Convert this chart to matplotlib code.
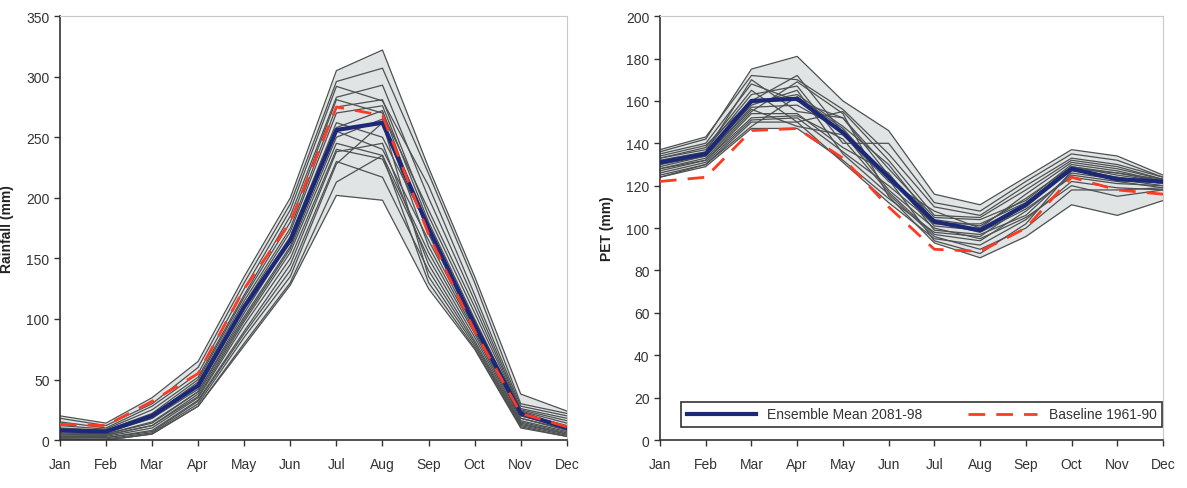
import numpy as np
import matplotlib
matplotlib.use("Agg")
import matplotlib.pyplot as plt

plt.rcParams['font.family'] = ['Liberation Sans', 'DejaVu Sans']

months = ["Jan", "Feb", "Mar", "Apr", "May", "Jun", "Jul", "Aug", "Sep", "Oct", "Nov", "Dec"]

# ensemble members, rainfall (mm)
rain_members = [
    [20, 14, 35, 65, 135, 200, 305, 322, 225, 135, 38, 24],
    [18, 12, 30, 60, 130, 195, 296, 307, 220, 130, 30, 22],
    [15, 10, 28, 55, 125, 190, 292, 280, 210, 120, 28, 20],
    [12, 9, 25, 52, 120, 185, 283, 293, 200, 115, 26, 18],
    [10, 8, 22, 50, 118, 180, 281, 270, 190, 110, 25, 16],
    [9, 8, 20, 48, 115, 175, 275, 281, 185, 105, 24, 14],
    [8, 7, 18, 45, 112, 172, 270, 276, 180, 100, 22, 12],
    [7, 6, 18, 42, 110, 168, 262, 250, 175, 98, 20, 11],
    [6, 5, 15, 40, 105, 165, 258, 272, 170, 95, 20, 10],
    [5, 5, 14, 40, 102, 160, 255, 240, 165, 92, 18, 9],
    [5, 4, 12, 38, 100, 158, 250, 265, 160, 90, 18, 8],
    [4, 4, 12, 36, 98, 155, 245, 235, 155, 88, 16, 7],
    [3, 3, 10, 35, 95, 150, 240, 232, 150, 85, 15, 6],
    [3, 2, 8, 33, 90, 145, 238, 245, 145, 82, 14, 5],
    [2, 2, 7, 32, 88, 140, 230, 217, 140, 80, 13, 5],
    [1, 1, 6, 30, 85, 135, 228, 262, 135, 78, 12, 4],
    [1, 0, 5, 28, 80, 130, 213, 235, 130, 76, 11, 3],
    [0, 0, 5, 28, 78, 128, 202, 198, 125, 75, 10, 3],
]
rain_mean = [8, 7, 20, 45, 110, 165, 256, 262, 175, 95, 22, 10]
rain_base = [13, 12, 32, 55, 125, 180, 275, 268, 170, 90, 22, 11]

# ensemble members, PET (mm)
pet_members = [
    [137, 143, 172, 170, 156, 135, 110, 106, 120, 133, 130, 124],
    [136, 142, 175, 181, 160, 146, 116, 111, 124, 137, 134, 125],
    [135, 140, 168, 160, 152, 128, 105, 104, 113, 130, 127, 122],
    [134, 139, 160, 172, 145, 118, 100, 95, 105, 120, 115, 118],
    [133, 138, 165, 150, 155, 132, 106, 105, 118, 132, 129, 123],
    [133, 137, 163, 167, 140, 140, 112, 108, 122, 135, 132, 124],
    [132, 136, 170, 155, 152, 125, 104, 101, 114, 129, 126, 122],
    [131, 135, 159, 163, 148, 130, 103, 98, 109, 124, 121, 120],
    [130, 135, 158, 165, 135, 116, 96, 90, 100, 118, 118, 119],
    [130, 134, 157, 158, 146, 124, 101, 99, 110, 128, 124, 121],
    [129, 134, 156, 148, 144, 122, 108, 100, 116, 131, 128, 123],
    [128, 133, 155, 169, 154, 115, 93, 86, 96, 111, 106, 113],
    [128, 132, 154, 154, 138, 126, 99, 97, 106, 126, 123, 120],
    [127, 132, 152, 153, 142, 117, 97, 94, 108, 125, 122, 119],
    [126, 131, 151, 152, 136, 120, 102, 102, 112, 129, 125, 122],
    [125, 130, 150, 150, 131, 112, 95, 92, 104, 122, 119, 118],
    [124, 130, 148, 162, 147, 123, 94, 88, 102, 127, 124, 121],
    [124, 129, 147, 147, 132, 114, 98, 96, 111, 128, 126, 123],
]
pet_mean = [131, 135, 160, 161, 145, 124, 103, 99, 111, 128, 123, 122]
pet_base = [122, 124, 146, 147, 133, 110, 90, 89, 100, 124, 118, 116]

fig = plt.figure(figsize=(11.87, 4.89), dpi=100)
ax1 = fig.add_axes([0.0505, 0.098, 0.427, 0.867])
ax2 = fig.add_axes([0.556, 0.098, 0.4238, 0.867])

x = np.arange(len(months))


def draw(ax, members, mean, base, ymax, ystep, ylabel):
    m = np.array(members)
    ax.fill_between(x, m.min(axis=0), m.max(axis=0), color="#e1e4e4", lw=0, zorder=1)
    for row in m:
        ax.plot(x, row, color="#4d5151", lw=0.9, zorder=2)
    ax.plot(x, mean, color="#1c2878", lw=3, zorder=4, label="Ensemble Mean 2081-98")
    ax.plot(x, base, color="#fb3b24", lw=2, dashes=(6, 4), zorder=5, label="Baseline 1961-90")
    ax.set_xlim(0, 11)
    ax.set_ylim(0, ymax)
    ax.set_xticks(x)
    ax.set_xticklabels(months)
    ax.set_yticks(np.arange(0, ymax + 1, ystep))
    ax.tick_params(labelsize=10, colors="#333333", length=4, width=1)
    ax.tick_params(axis="x", pad=8)
    for s in ["top", "right"]:
        ax.spines[s].set_color("#c8c8c8")
    for s in ["left", "bottom"]:
        ax.spines[s].set_color("#333333")
        ax.spines[s].set_linewidth(1.2)
    ax.set_ylabel(ylabel, fontsize=10, fontweight="bold", color="#222222", labelpad=9)


draw(ax1, rain_members, rain_mean, rain_base, 350, 50, "Rainfall (mm)")
draw(ax2, pet_members, pet_mean, pet_base, 200, 20, "PET (mm)")

ax2.legend(loc="lower left", bbox_to_anchor=(0.042, 0.031, 0.956, 0.101), mode="expand",
           ncol=2, fancybox=False, edgecolor="#333333", framealpha=1, fontsize=10,
           handlelength=5, borderaxespad=0)
ax2.get_legend().get_frame().set_linewidth(1.2)
for t in ax2.get_legend().get_texts():
    t.set_color("#333333")

fig.savefig("out.png", dpi=100)
